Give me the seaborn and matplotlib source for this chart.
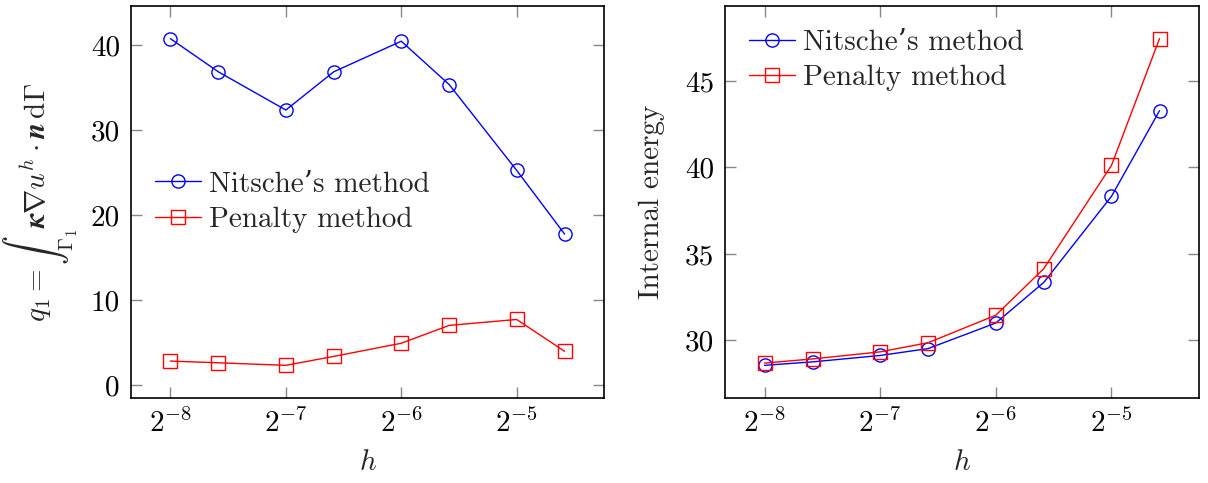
import numpy as np
import pandas as pd
import matplotlib
matplotlib.use("Agg")
import matplotlib.pyplot as plt
import seaborn as sns

# ---- data ----
h_vals = [1/256, 1/192, 1/128, 1/96, 1/64, 1/48, 1/32, 1/24]
q1_nitsche = [40.8, 36.9, 32.4, 36.9, 40.5, 35.4, 25.3, 17.8]
q1_penalty = [2.85, 2.65, 2.35, 3.4, 4.95, 7.05, 7.75, 4.0]
energy_nitsche = [28.55, 28.75, 29.12, 29.52, 31.0, 33.35, 38.33, 43.28]
energy_penalty = [28.68, 28.92, 29.33, 29.86, 31.45, 34.15, 40.12, 47.45]
series_names = ["Nitsche\u2019s method", "Penalty method"]
x_ticks = [2**-8, 2**-7, 2**-6, 2**-5]
x_ticklabels = [r"$2^{-8}$", r"$2^{-7}$", r"$2^{-6}$", r"$2^{-5}$"]
left_yticks = [0, 10, 20, 30, 40]
right_yticks = [30, 35, 40, 45]

sns.set_style("ticks")
plt.rcParams["font.family"] = ["cmr10", "DejaVu Serif"]
plt.rcParams["mathtext.fontset"] = "cm"
plt.rcParams["axes.formatter.use_mathtext"] = True
plt.rcParams["axes.unicode_minus"] = False
FS = 21

W, H = 1208, 483
fig = plt.figure(figsize=(W / 100, H / 100), dpi=100)
ax1 = fig.add_axes([131 / W, 85 / H, 473 / W, 392 / H])
ax2 = fig.add_axes([725 / W, 85 / H, 474 / W, 392 / H])

colors = ["#0000ff", "#ff0000"]
markers = ["o", "s"]


def draw(ax, ys, yticks, ylabel, ylabelpad, legend_kw):
    for name, y, c, m in zip(series_names, ys, colors, markers):
        df = pd.DataFrame({"h": h_vals, "v": y})
        sns.lineplot(data=df, x="h", y="v", ax=ax, color=c, marker=m,
                     markersize=9.5, fillstyle="none", markeredgewidth=1.0,
                     markeredgecolor=c, linewidth=1.0, label=name)
    ax.set_xscale("log", base=2)
    lx = np.log2(h_vals)
    span = lx.max() - lx.min()
    ax.set_xlim(2 ** (lx.min() - 0.1 * span), 2 ** (lx.max() + 0.1 * span))
    allv = np.concatenate([np.asarray(v) for v in ys])
    yspan = allv.max() - allv.min()
    ax.set_ylim(allv.min() - 0.1 * yspan, allv.max() + 0.1 * yspan)
    ax.set_xticks(x_ticks)
    ax.set_xticklabels(x_ticklabels)
    ax.xaxis.set_minor_locator(matplotlib.ticker.NullLocator())
    ax.set_yticks(yticks)
    ax.set_yticklabels([str(t) for t in yticks])
    ax.tick_params(which="both", direction="in", top=True, right=True,
                   length=8, width=1.0, color="#888888", labelsize=FS,
                   labelcolor="black", pad=8)
    for s in ax.spines.values():
        s.set_color("black")
        s.set_linewidth(1.2)
    ax.set_xlabel(r"$h$", fontsize=FS, labelpad=8)
    ax.set_ylabel(ylabel, fontsize=FS, labelpad=ylabelpad)
    ax.legend(frameon=False, fontsize=FS, handlelength=1.6, handletextpad=0.25,
              labelspacing=0.3, borderpad=0, borderaxespad=0, **legend_kw)


draw(ax1, [q1_nitsche, q1_penalty], left_yticks,
     r"$q_1 = \int_{\Gamma_1} \boldsymbol{\kappa}\nabla u^h \cdot \boldsymbol{n}\,\mathrm{d}\Gamma$",
     8, dict(loc="center left", bbox_to_anchor=(0.05, 0.5)))
draw(ax2, [energy_nitsche, energy_penalty], right_yticks, "Internal energy",
     14, dict(loc="upper left", bbox_to_anchor=(0.05, 0.94)))

fig.savefig("out.png", dpi=100)
